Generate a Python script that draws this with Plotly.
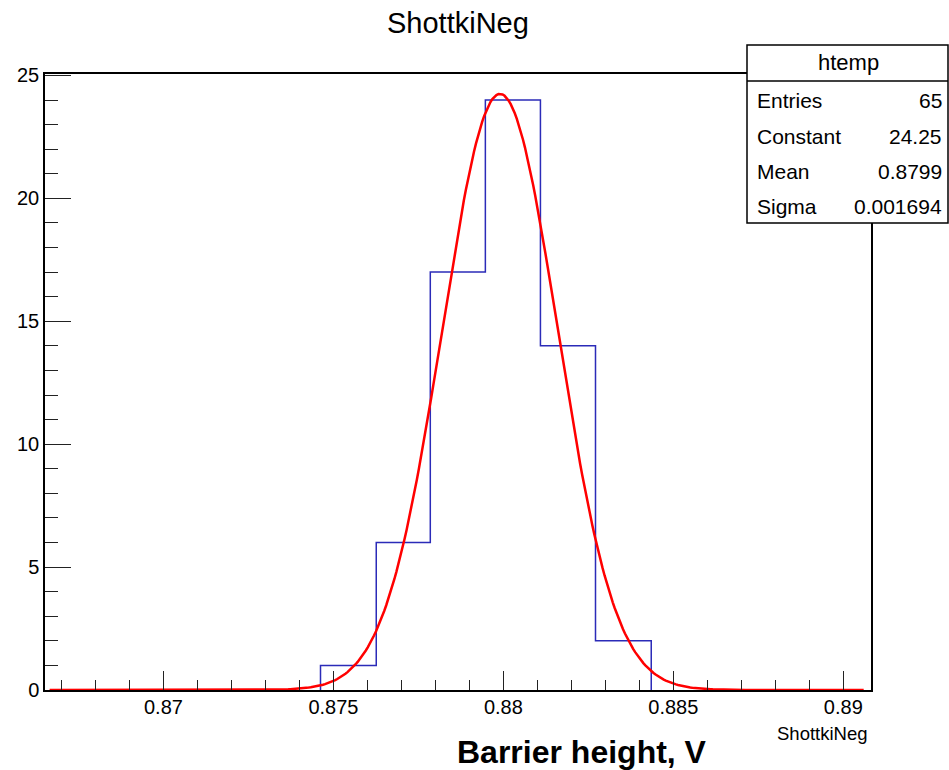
import plotly.graph_objects as go
import numpy as np

# ---- data ----
bin_edges = [0.87462, 0.87626, 0.87785, 0.87947, 0.88109, 0.88271, 0.88435]
bin_counts = [1, 6, 17, 24, 14, 2]

# Gaussian fit parameters (shown in stats box)
fit_constant = 24.25
fit_mean = 0.8799
fit_sigma = 0.001694
fit_range = [0.86665, 0.89060]

stats_labels = ["Entries", "Constant", "Mean", "Sigma"]
stats_values = ["65", "24.25", "0.8799", "0.001694"]

x_tickvals = [0.87, 0.875, 0.88, 0.885, 0.89]
x_ticktext = ["0.87", "0.875", "0.88", "0.885", "0.89"]
y_tickvals = [0, 5, 10, 15, 20, 25]
y_ticktext = ["0", "5", "10", "15", "20", "25"]

# ---- geometry ----
W, H = 949, 770
L, R, T, B = 45, 871, 74, 690
REG = "Liberation Sans, Arial, sans-serif"


def px(x):
    return (x - L) / (R - L)


def py(y):
    return (B - y) / (B - T)


# step outline
step_x = [bin_edges[0]] + list(bin_edges[:-1]) + [bin_edges[-1], bin_edges[-1]]
step_y = [0] + list(bin_counts) + [bin_counts[-1], 0]

fx = np.linspace(fit_range[0], fit_range[1], 400)
fy = fit_constant * np.exp(-0.5 * ((fx - fit_mean) / fit_sigma) ** 2)

fig = go.Figure()
fig.add_trace(go.Scatter(x=step_x, y=step_y, mode="lines", line_shape="hv",
                         line=dict(color="#2b2bb8", width=1.5), hoverinfo="skip"))
fig.add_trace(go.Scatter(x=fx, y=fy, mode="lines",
                         line=dict(color="#ff0000", width=2.5), hoverinfo="skip"))

fig.update_layout(
    width=W, height=H,
    margin=dict(l=L, r=W - R, t=T, b=H - B),
    paper_bgcolor="white", plot_bgcolor="white",
    showlegend=False,
    font=dict(family=REG, size=20, color="black"),
)
fig.update_xaxes(
    range=[0.866515, 0.890815], showgrid=False, zeroline=False,
    showline=True, linecolor="black", linewidth=1.5, mirror=True,
    ticks="inside", ticklen=19, tickwidth=1, tickcolor="#222",
    tickvals=x_tickvals, ticktext=x_ticktext, ticklabelstandoff=-2,
    minor=dict(ticks="inside", ticklen=10, tickwidth=1, tickcolor="#222", dtick=0.001, tick0=0.87),
    tickfont=dict(family=REG, size=20, color="black"),
)
fig.update_yaxes(
    range=[0, 25.06], showgrid=False, zeroline=False,
    showline=True, linecolor="black", linewidth=1.5, mirror=True,
    ticks="inside", ticklen=26, tickwidth=1, tickcolor="#222",
    tickvals=y_tickvals, ticktext=y_ticktext,
    minor=dict(ticks="inside", ticklen=13, tickwidth=1, tickcolor="#222", dtick=1, tick0=0),
    tickfont=dict(family=REG, size=20, color="black"),
)

# stats box
bx0, bx1, by0, by1, bsep = 747, 948, 45, 223, 81
fig.add_shape(type="rect", xref="paper", yref="paper", layer="above",
              x0=px(bx0), x1=px(bx1), y0=py(by1), y1=py(by0),
              fillcolor="white", line=dict(color="black", width=1.5))
fig.add_shape(type="line", xref="paper", yref="paper", layer="above",
              x0=px(bx0), x1=px(bx1), y0=py(bsep), y1=py(bsep),
              line=dict(color="black", width=1.5))

anns = []
anns.append(dict(text="htemp", x=px(848), y=py(62), xref="paper", yref="paper",
                 xanchor="center", yanchor="middle", showarrow=False,
                 font=dict(family=REG, size=22, color="black")))
row_y = [101, 136.5, 171.5, 206.5]
for lab, val, yy in zip(stats_labels, stats_values, row_y):
    anns.append(dict(text=lab, x=px(755), y=py(yy), xref="paper", yref="paper",
                     xanchor="left", yanchor="middle", showarrow=False,
                     font=dict(family=REG, size=21, color="black")))
    anns.append(dict(text=val, x=px(944), y=py(yy), xref="paper", yref="paper",
                     xanchor="right", yanchor="middle", showarrow=False,
                     font=dict(family=REG, size=21, color="black")))

# title
anns.append(dict(text="ShottkiNeg", x=px(458), y=py(23), xref="paper", yref="paper",
                 xanchor="center", yanchor="middle", showarrow=False,
                 font=dict(family=REG, size=29, color="black")))
# axis variable label
anns.append(dict(text="ShottkiNeg", x=px(870), y=py(733), xref="paper", yref="paper",
                 xanchor="right", yanchor="middle", showarrow=False,
                 font=dict(family=REG, size=18.5, color="black")))
# bold axis title
anns.append(dict(text="<b>Barrier height, V</b>", x=px(582), y=py(752), xref="paper", yref="paper",
                 xanchor="center", yanchor="middle", showarrow=False,
                 font=dict(family=REG, size=32, color="black")))
fig.update_layout(annotations=anns)

fig.write_html("out.html")
